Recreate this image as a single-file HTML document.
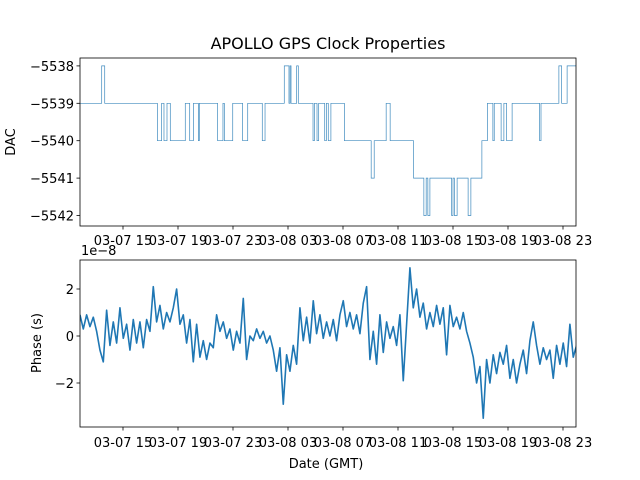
<!DOCTYPE html>
<html><head><meta charset="utf-8">
<style>
html,body{margin:0;padding:0;background:#fff;}
svg{display:block;font-family:"DejaVu Sans","Liberation Sans",sans-serif;}
text{fill:#000;}
</style></head>
<body>
<svg id="chart" width="640" height="480" viewBox="0 0 640 480" xmlns="http://www.w3.org/2000/svg">
<rect width="640" height="480" fill="#fff"/>
<text x="328" y="49" font-size="16" text-anchor="middle">APOLLO GPS Clock Properties</text>
<g id="topPanel"></g>
<g id="botPanel"></g>
<text transform="translate(15,142) rotate(-90)" font-size="13" text-anchor="middle">DAC</text>
<text transform="translate(41,343) rotate(-90)" font-size="13" text-anchor="middle">Phase (s)</text>
<text x="326" y="468" font-size="13" text-anchor="middle">Date (GMT)</text>
<text x="81" y="255" font-size="13">1e−8</text>
</svg>
<script>
// x tick labels (hours relative to 03-07 15:00)
const xTickHours = [0, 4, 8, 12, 16, 20, 24, 28, 32];
const xTickLabels = ["03-07 15","03-07 19","03-07 23","03-08 03","03-08 07","03-08 11","03-08 15","03-08 19","03-08 23"];
// DAC step change points: hour, value
const dacHours = [-3.13,-1.55,-1.33,2.50,2.81,2.98,3.20,3.44,4.53,4.85,5.12,5.48,5.55,6.88,7.27,7.37,7.98,8.70,9.07,10.13,10.33,11.73,12.07,12.15,12.22,12.63,12.75,13.82,13.92,14.11,14.23,14.67,14.79,14.93,15.12,16.10,18.05,18.27,19.14,19.43,21.13,21.88,22.05,22.17,22.32,23.90,24.00,24.10,24.30,25.10,25.30,26.10,26.50,26.90,27.00,27.50,27.70,27.90,28.30,30.30,30.40,31.70,31.90,32.30,33.10];
const dacValues = [-5539,-5538,-5539,-5540,-5539,-5540,-5539,-5540,-5539,-5540,-5539,-5540,-5539,-5540,-5539,-5540,-5539,-5540,-5539,-5540,-5539,-5538,-5539,-5538,-5539,-5538,-5539,-5540,-5539,-5540,-5539,-5540,-5539,-5540,-5539,-5540,-5541,-5540,-5539,-5540,-5541,-5542,-5541,-5542,-5541,-5542,-5541,-5542,-5541,-5542,-5541,-5540,-5539,-5540,-5539,-5540,-5539,-5540,-5539,-5540,-5539,-5538,-5539,-5538,-5539];
const dacTicks = [-5538,-5539,-5540,-5541,-5542];
// phase samples (units of 1e-8 s), regular sampling
const phaseStartHour = -3.13;
const phaseStepHour = 0.2424;
const phaseValues = [0.9,0.3,0.9,0.4,0.8,0.2,-0.6,-1.1,1.1,-0.4,0.6,-0.3,1.2,-0.1,0.5,-0.6,0.7,-0.3,0.6,-0.5,0.7,0.2,2.1,0.6,1.3,0.3,1.0,0.6,1.2,2.0,0.5,0.9,-0.3,0.7,-1.1,0.5,-0.9,-0.2,-1.0,-0.3,-0.5,0.9,0.2,0.6,-0.1,0.3,-0.6,0.2,-0.3,1.6,-1.0,0.0,-0.2,0.3,-0.1,0.2,-0.3,0.0,-0.6,-1.5,-0.5,-2.9,-0.8,-1.5,-0.4,-1.2,1.2,-0.2,0.8,-0.3,1.5,0.1,0.9,-0.1,0.6,0.0,0.7,-0.2,0.9,1.5,0.4,1.0,0.3,0.9,0.1,1.4,2.1,-1.0,0.2,-1.2,0.9,-0.7,0.6,-0.1,0.4,-0.4,0.9,-1.9,0.5,2.9,1.2,2.0,0.8,1.4,0.3,1.0,0.4,1.3,0.5,1.2,-0.8,1.3,0.4,0.8,0.3,1.0,0.2,-0.3,-0.9,-2.0,-1.3,-3.5,-1.0,-2.0,-0.8,-1.6,-0.7,-1.2,-0.4,-1.8,-1.0,-2.0,-1.2,-0.6,-1.6,-0.2,0.6,-0.4,-1.2,-0.5,-1.0,-0.6,-1.8,-0.4,-1.2,-0.3,-1.3,0.5,-0.9,-0.4];
const phaseTicks = [2, 0, -2];

const NS = "http://www.w3.org/2000/svg";
const L = 80, R = 576;
const xS = h => 123 + (h * 13.75);
const yTop = v => 103.3 + (-5539 - v) * 37.4;
const yBot = v => 336 - v * 23.5;
function mk(tag, attrs, parent){ const e=document.createElementNS(NS,tag); for(const k in attrs) e.setAttribute(k,attrs[k]); parent.appendChild(e); return e; }

function panel(g, y0, y1, yTicks, yFn, yLabelFn, labelY){
  xTickHours.forEach((h,i)=>{
    const x=xS(h);
    const t=mk('line',{x1:x,x2:x,y1:y1,y2:y1+3.5,stroke:'#000','stroke-width':0.8},g);
    
    
    const lb=mk('text',{x:x,y:labelY,'font-size':13,'text-anchor':'middle'},g);
    lb.textContent=xTickLabels[i];
    
    
  });
  yTicks.forEach(v=>{
    const y=yFn(v);
    const t=mk('line',{x1:L-3.5,x2:L,y1:y,y2:y,stroke:'#000','stroke-width':0.8},g);
    
    
    const lb=mk('text',{x:L-6,y:y+5,'font-size':13,'text-anchor':'end'},g);
    lb.textContent=yLabelFn(v);
    
    
  });
}

const topG = document.getElementById('topPanel');
const botG = document.getElementById('botPanel');
const cp1 = mk('clipPath',{id:'c1'},topG); mk('rect',{x:L,y:58,width:R-L,height:168},cp1);
const cp2 = mk('clipPath',{id:'c2'},botG); mk('rect',{x:L,y:260,width:R-L,height:167},cp2);

let d='';
dacHours.forEach((h,i)=>{
  const x=xS(h), y=yTop(dacValues[i]);
  if(i===0) d+=`M${x},${y}`; else d+=`H${x}V${y}`;
});
d+=`H${R+2}`;
const dl=mk('path',{d:d,fill:'none',stroke:'#1f77b4','stroke-width':0.7,'stroke-opacity':0.85,'clip-path':'url(#c1)'},topG);



let pd='';
phaseValues.forEach((v,i)=>{
  const x=xS(phaseStartHour+i*phaseStepHour), y=yBot(v);
  pd+=(i?'L':'M')+x+','+y;
});
const pl=mk('path',{d:pd,fill:'none',stroke:'#1f77b4','stroke-width':1.6,'stroke-linejoin':'round','clip-path':'url(#c2)'},botG);



panel(topG,58,226,dacTicks,yTop,v=>'\u2212'+Math.abs(v),245);
panel(botG,260,427,phaseTicks,yBot,v=>v<0?'\u2212'+Math.abs(v):String(v),447);

const f1=mk('rect',{x:L,y:58,width:R-L,height:168,fill:'none',stroke:'#000','stroke-width':0.8},topG);


const f2=mk('rect',{x:L,y:260,width:R-L,height:167,fill:'none',stroke:'#000','stroke-width':0.8},botG);


</script>
</body></html>
